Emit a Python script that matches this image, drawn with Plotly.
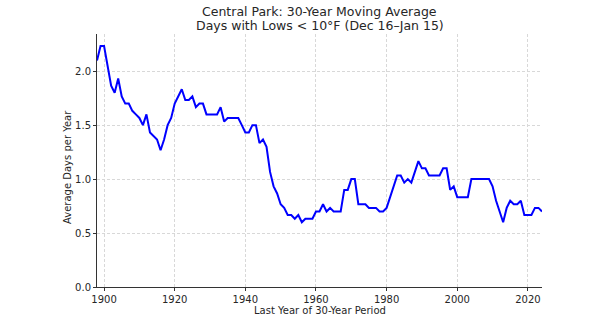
import plotly.graph_objects as go

years = list(range(1898, 2025))

avg_days = [
    2.100, 2.233, 2.233, 2.033, 1.867, 1.800, 1.933, 1.767, 1.700, 1.700,  # 1898-1907
    1.633, 1.600, 1.567, 1.500, 1.600, 1.433, 1.400, 1.367, 1.267, 1.367,  # 1908-1917
    1.500, 1.567, 1.700, 1.767, 1.833, 1.733, 1.733, 1.767, 1.667, 1.700,  # 1918-1927
    1.700, 1.600, 1.600, 1.600, 1.600, 1.667, 1.533, 1.567, 1.567, 1.567,  # 1928-1937
    1.567, 1.500, 1.433, 1.433, 1.500, 1.500, 1.333, 1.367, 1.300, 1.067,  # 1938-1947
    0.933, 0.867, 0.767, 0.733, 0.667, 0.667, 0.633, 0.667, 0.600, 0.633,  # 1948-1957
    0.633, 0.633, 0.700, 0.700, 0.767, 0.700, 0.733, 0.700, 0.700, 0.700,  # 1958-1967
    0.900, 0.900, 1.000, 1.000, 0.767, 0.767, 0.767, 0.733, 0.733, 0.733,  # 1968-1977
    0.700, 0.700, 0.733, 0.833, 0.933, 1.033, 1.033, 0.967, 1.000, 0.967,  # 1978-1987
    1.067, 1.167, 1.100, 1.100, 1.033, 1.033, 1.033, 1.033, 1.100, 1.100,  # 1988-1997
    0.900, 0.933, 0.833, 0.833, 0.833, 0.833, 1.000, 1.000, 1.000, 1.000,  # 1998-2007
    1.000, 1.000, 0.933, 0.800, 0.700, 0.600, 0.733, 0.800, 0.767, 0.767,  # 2008-2017
    0.800, 0.667, 0.667, 0.667, 0.733, 0.733, 0.700,                       # 2018-2024
]

x_ticks = [1900, 1920, 1940, 1960, 1980, 2000, 2020]
y_ticks = [0.0, 0.5, 1.0, 1.5, 2.0]

title_line1 = "Central Park: 30-Year Moving Average"
title_line2 = "Days with Lows < 10°F (Dec 16–Jan 15)"
x_title = "Last Year of 30-Year Period"
y_title = "Average Days per Year"

FONT = "DejaVu Sans"
TXT = "#262626"

fig = go.Figure()
fig.add_trace(go.Scatter(
    x=years, y=avg_days, mode="lines",
    line=dict(color="#0000FF", width=2),
    showlegend=False, hoverinfo="skip",
))

axis_common = dict(
    showline=True, linecolor="#333333", linewidth=1,
    ticks="outside", ticklen=3, tickwidth=1, tickcolor="#333333",
    showgrid=True, gridcolor="#d8d8d8", gridwidth=0.8, griddash="3px,2px",
    zeroline=False,
    tickfont=dict(family=FONT, size=10, color=TXT),
)

# plot area: x 97..542, y 34..287 (px)
def py(p):
    return (287 - p) / 253

def px(p):
    return (p - 97) / 445

fig.update_layout(
    width=606, height=323,
    margin=dict(l=97, r=64, t=34, b=36),
    paper_bgcolor="white", plot_bgcolor="white",
    xaxis=dict(range=[1898, 2024], tickvals=x_ticks,
               ticktext=[str(v) for v in x_ticks], **axis_common),
    yaxis=dict(range=[0, 2.345], tickvals=y_ticks,
               ticktext=[f"{v:.1f}" for v in y_ticks], **axis_common),
    annotations=[
        dict(text=title_line1, xref="paper", x=0.5, yref="paper",
             y=py(11.5), yanchor="middle", xanchor="center",
             showarrow=False, font=dict(family=FONT, size=12.5, color=TXT)),
        dict(text=title_line2, xref="paper", x=0.5, yref="paper",
             y=py(25.5), yanchor="middle", xanchor="center",
             showarrow=False, font=dict(family=FONT, size=12.5, color=TXT)),
        dict(text=x_title, xref="paper", x=0.5, yref="paper",
             y=py(310.5), yanchor="middle", xanchor="center", borderpad=0,
             showarrow=False, font=dict(family=FONT, size=10, color=TXT)),
        dict(text=y_title, xref="paper", x=px(67), yref="paper",
             y=py(167), yanchor="middle", xanchor="center", textangle=-90,
             borderpad=0,
             showarrow=False, font=dict(family=FONT, size=10, color=TXT)),
    ],
)

fig.write_html("out.html")
